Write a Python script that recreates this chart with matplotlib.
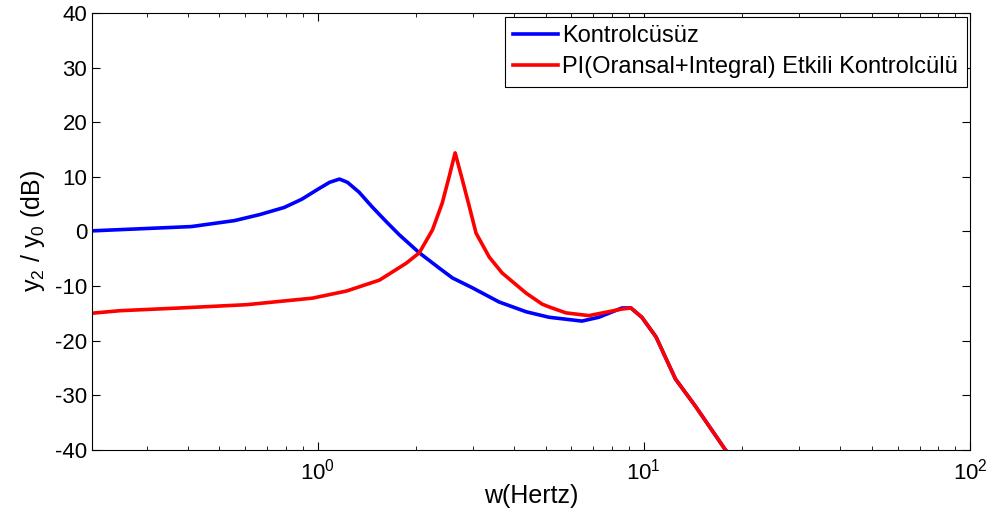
import matplotlib
matplotlib.use("Agg")
import matplotlib.pyplot as plt

plt.rcParams['font.family'] = ['Liberation Sans', 'DejaVu Sans']
plt.rcParams['axes.unicode_minus'] = False
plt.rcParams['mathtext.fontset'] = 'custom'
plt.rcParams['mathtext.rm'] = 'Liberation Sans'
plt.rcParams['mathtext.it'] = 'Liberation Sans'
plt.rcParams['mathtext.default'] = 'regular'

# Kontrolcüsüz (blue)
f_blue = [0.2, 0.41, 0.557, 0.665, 0.79, 0.894, 1.0, 1.088, 1.167, 1.235, 1.34, 1.47,
          1.63, 1.78, 2.05, 2.36, 2.59, 2.98, 3.6, 4.36, 5.12, 6.46, 7.28, 8.57,
          9.13, 9.86, 10.9, 12.5, 14.4, 17.8]
db_blue = [0.1, 0.9, 2.0, 3.1, 4.4, 5.9, 7.7, 9.0, 9.6, 9.0, 7.2, 4.5,
           1.7, -0.6, -3.9, -6.7, -8.5, -10.3, -12.9, -14.7, -15.7, -16.4, -15.7, -14.0,
           -14.0, -15.7, -19.3, -27.0, -32.0, -40.0]

# PI(Oransal+Integral) Etkili Kontrolcülü (red)
f_red = [0.2, 0.248, 0.379, 0.606, 0.965, 1.226, 1.548, 1.87, 2.05, 2.25, 2.41,
         2.53, 2.64, 2.78, 2.92, 3.06, 3.36, 3.68, 4.36, 4.88, 5.12, 5.77, 6.79,
         8.57, 9.13, 9.86, 10.9, 12.5, 14.4, 17.8]
db_red = [-15.0, -14.5, -14.0, -13.4, -12.2, -10.9, -8.9, -5.8, -3.9, 0.3, 5.2,
          10.0, 14.4, 9.4, 4.5, -0.3, -4.7, -7.6, -11.3, -13.3, -13.8, -14.9, -15.4,
          -14.2, -14.0, -15.7, -19.3, -27.0, -32.0, -40.0]

fig = plt.figure(figsize=(9.98, 5.25), dpi=100)
ax = fig.add_axes([0.0922, 0.1429, 0.8798, 0.8323])

ax.semilogx(f_blue, db_blue, color='#0000ff', lw=2.6, label='Kontrolcüsüz')
ax.semilogx(f_red, db_red, color='#ff0000', lw=2.6, label='PI(Oransal+Integral) Etkili Kontrolcülü')

ax.set_xlim(0.2035, 100)
ax.set_ylim(-40, 40)
ax.set_yticks(range(-40, 41, 10))
ax.tick_params(which='both', direction='in', top=True, right=True, labelsize=16)
ax.tick_params(which='major', length=6)
ax.tick_params(which='minor', length=3)
ax.tick_params(axis='x', pad=6)
for s in ax.spines.values():
    s.set_linewidth(0.8)

ax.set_xlabel('w(Hertz)', fontsize=18, labelpad=0)
ax.set_ylabel('$y_2$ / $y_0$ (dB)', fontsize=18, labelpad=6)

leg = ax.legend(loc='upper right', fontsize=17, fancybox=False, framealpha=1,
                edgecolor='black', borderpad=0.35, handlelength=1.9,
                labelspacing=0.4, handletextpad=0.2, borderaxespad=0.15)
leg.get_frame().set_linewidth(0.8)

fig.savefig('out.png', dpi=100)
